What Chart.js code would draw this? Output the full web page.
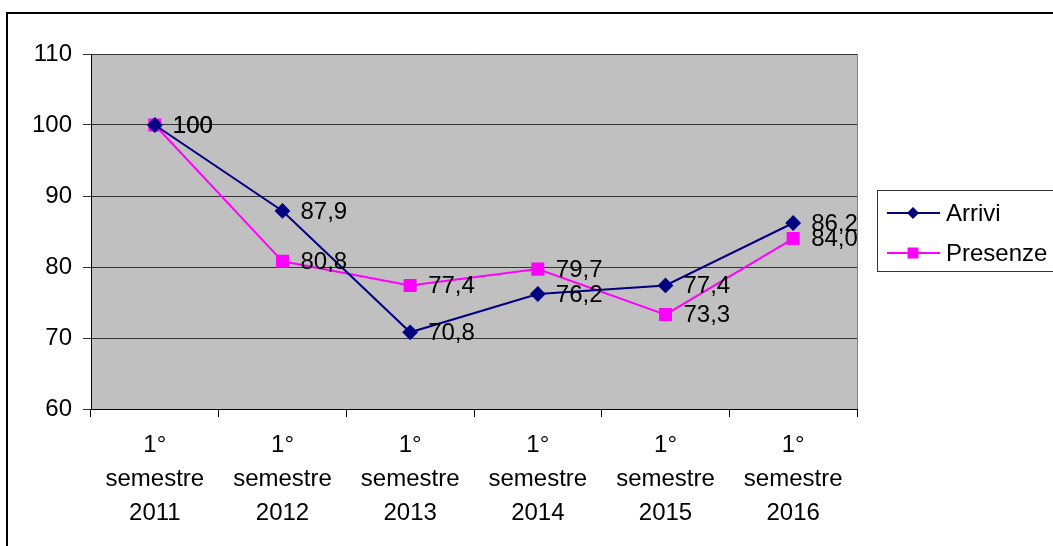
<!DOCTYPE html>
<html>
<head>
<meta charset="utf-8">
<script src="https://cdn.jsdelivr.net/npm/chart.js@4/dist/chart.umd.min.js"></script>
<style>
  html, body { margin: 0; padding: 0; background: #fff; }
  #wrap { position: relative; width: 1053px; height: 546px; }
</style>
</head>
<body>
<div id="wrap"><canvas id="indexChart"></canvas></div>
<script>
// dati (indice, 1° semestre 2011 = 100)
const categories = [
    ['1°', 'semestre', '2011'],
    ['1°', 'semestre', '2012'],
    ['1°', 'semestre', '2013'],
    ['1°', 'semestre', '2014'],
    ['1°', 'semestre', '2015'],
    ['1°', 'semestre', '2016']
];
const arrivi = [100, 87.9, 70.8, 76.2, 77.4, 86.2];
const presenze = [100, 80.8, 77.4, 79.7, 73.3, 84.0];
const yTicks = [60, 70, 80, 90, 100, 110];

const FONT = '"Liberation Sans", Arial, sans-serif';
const FSIZE = 24;

function fmt(v) {
    if (v === 100) return '100';
    return v.toFixed(1).replace('.', ',');
}

// sfondo grigio dell'area del grafico + cornice esterna
const backgroundPlugin = {
    id: 'background',
    beforeDraw(chart) {
        const ctx = chart.ctx;
        const a = chart.chartArea;
        ctx.save();
        ctx.fillStyle = '#c0c0c0';
        ctx.fillRect(a.left, a.top, a.right - a.left, a.bottom - a.top);
        ctx.strokeStyle = '#808080';
        ctx.lineWidth = 1;
        ctx.beginPath();
        ctx.moveTo(a.right + 0.5, a.top);
        ctx.lineTo(a.right + 0.5, a.bottom);
        ctx.stroke();
        // cornice
        ctx.strokeStyle = '#000';
        ctx.lineWidth = 2;
        ctx.beginPath();
        ctx.moveTo(7, chart.height);
        ctx.lineTo(7, 13);
        ctx.lineTo(chart.width, 13);
        ctx.stroke();
        ctx.restore();
    }
};

// etichette dei valori a destra dei punti
const valueLabels = {
    id: 'valueLabels',
    afterDatasetsDraw(chart) {
        const ctx = chart.ctx;
        ctx.save();
        ctx.font = FSIZE + 'px ' + FONT;
        ctx.fillStyle = '#000';
        ctx.textAlign = 'left';
        ctx.textBaseline = 'middle';
        chart.data.datasets.forEach((ds, i) => {
            chart.getDatasetMeta(i).data.forEach((pt, j) => {
                ctx.fillText(fmt(ds.data[j]), pt.x + 18, pt.y + 1);
            });
        });
        ctx.restore();
    }
};

// legenda a destra
const sideLegend = {
    id: 'sideLegend',
    afterDraw(chart) {
        const ctx = chart.ctx;
        ctx.save();
        ctx.strokeStyle = '#333';
        ctx.lineWidth = 1;
        ctx.strokeRect(877.5, 190.5, 200, 81);
        ctx.font = FSIZE + 'px ' + FONT;
        ctx.textBaseline = 'middle';
        chart.data.datasets.forEach((ds, i) => {
            const y = 213 + i * 40;
            ctx.strokeStyle = ds.borderColor;
            ctx.lineWidth = 2;
            ctx.beginPath();
            ctx.moveTo(887, y);
            ctx.lineTo(940, y);
            ctx.stroke();
            ctx.fillStyle = ds.pointBackgroundColor;
            ctx.beginPath();
            if (ds.pointStyle === 'rectRot') {
                ctx.moveTo(913, y - 6);
                ctx.lineTo(919, y);
                ctx.lineTo(913, y + 6);
                ctx.lineTo(907, y);
                ctx.closePath();
            } else {
                ctx.rect(907.5, y - 5.5, 11, 11);
            }
            ctx.fill();
            ctx.fillStyle = '#000';
            ctx.fillText(ds.label, 946, y + 1);
        });
        ctx.restore();
    }
};

const ctx = document.getElementById('indexChart').getContext('2d');

const config = {
    type: 'line',
    data: {
        labels: categories,
        datasets: [{
            label: 'Arrivi',
            data: arrivi,
            borderColor: '#000080',
            backgroundColor: '#000080',
            pointBackgroundColor: '#000080',
            pointBorderColor: '#000080',
            pointStyle: 'rectRot',
            pointRadius: 6.5,
            borderWidth: 2,
            lineTension: 0
        }, {
            label: 'Presenze',
            data: presenze,
            borderColor: '#ff00ff',
            backgroundColor: '#ff00ff',
            pointBackgroundColor: '#ff00ff',
            pointBorderColor: '#ff00ff',
            pointStyle: 'rect',
            pointRadius: 7.8,
            borderWidth: 2,
            lineTension: 0
        }]
    },
    options: {
        responsive: true,
        maintainAspectRatio: false,
        animation: false,
        layout: { padding: { left: 0, top: 54, right: 196, bottom: 0 } },
        plugins: {
            legend: { display: false },
            tooltip: { enabled: false }
        },
        scales: {
            x: {
                offset: true,
                grid: {
                    offset: true,
                    drawOnChartArea: false,
                    drawTicks: true,
                    tickLength: 8,
                    color: '#000'
                },
                border: { color: '#000', width: 1 },
                ticks: {
                    color: '#000',
                    padding: 12,
                    maxRotation: 0,
                    autoSkip: false,
                    font: { family: FONT, size: FSIZE, lineHeight: 1.4 }
                },
                afterFit(scale) { scale.height = 137; }
            },
            y: {
                min: yTicks[0],
                max: yTicks[yTicks.length - 1],
                afterBuildTicks(scale) {
                    scale.ticks = yTicks.map(v => ({ value: v }));
                },
                grid: {
                    color: '#333',
                    lineWidth: 1,
                    tickLength: 8
                },
                border: { color: '#000', width: 1 },
                ticks: {
                    color: '#000',
                    padding: 11,
                    font: { family: FONT, size: FSIZE }
                },
                afterFit(scale) { scale.width = 91; }
            }
        }
    },
    plugins: [backgroundPlugin, valueLabels, sideLegend]
};

const indexChart = new Chart(ctx, config);
</script>
</body>
</html>
